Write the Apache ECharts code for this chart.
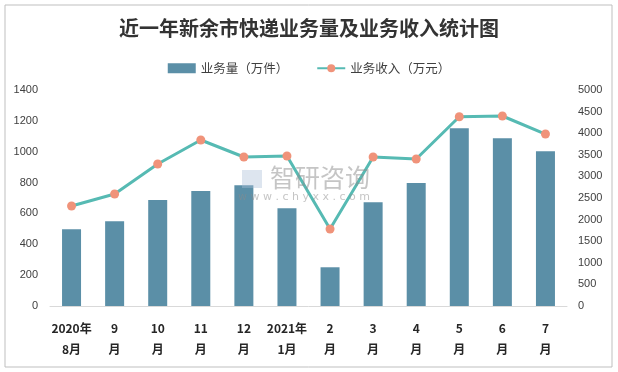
<!DOCTYPE html>
<html><head><meta charset="utf-8">
<script src="https://cdn.jsdelivr.net/npm/echarts@6/dist/echarts.min.js"></script>
<style>html,body{margin:0;padding:0;background:#fff}#c{width:618px;height:372px}</style>
</head><body><div id="c"></div>
<script>
const categories = ['2020年\n8月','9\n月','10\n月','11\n月','12\n月','2021年\n1月','2\n月','3\n月','4\n月','5\n月','6\n月','7\n月'];
const volume = [498, 549, 687, 745, 782, 633, 251, 672, 797, 1152, 1087, 1003];
const revenue = [2315, 2593, 3287, 3843, 3449, 3472, 1782, 3449, 3403, 4382, 4398, 3981];
const leftTicks = [0, 1400, 200];
const rightTicks = [0, 5000, 500];

const chart = echarts.init(document.getElementById('c'), null, {renderer:'canvas'});
chart.setOption({
  animation: false,
  backgroundColor: '#fff',
  title: {
    text: '近一年新余市快递业务量及业务收入统计图',
    left: 'center', top: 13,
    textStyle: {fontFamily: 'Noto Sans CJK SC', fontWeight: 'bold', fontSize: 20, color: '#333'}
  },
  legend: {
    top: 57, left: 'center', itemGap: 28, itemWidth: 28, itemHeight: 10,
    textStyle: {fontFamily: 'Noto Sans CJK SC', fontSize: 12.5, color: '#404040'},
    data: [{name: '业务量（万件）', icon: 'rect'}, {name: '业务收入（万元）'}]
  },
  grid: {left: 50, right: 51, top: 90, bottom: 66},
  graphic: [
    {type: 'rect', shape: {x: 5, y: 5, width: 607, height: 362}, style: {fill: 'none', stroke: '#bfbfbf', lineWidth: 1}, z: -1},
    {type: 'text', left: 270, top: 165, style: {text: '智研咨询', font: '25px "Noto Sans CJK SC"', fill: 'rgba(140,140,140,0.5)'}, z: 10},
    {type: 'text', left: 238, top: 192, style: {text: 'w w w . c h y x x . c o m', font: '11px "DejaVu Sans"', fill: 'rgba(140,140,140,0.5)'}, z: 10},
    {type: 'rect', shape: {x: 242, y: 170, width: 20, height: 18}, style: {fill: 'rgba(170,190,215,0.4)'}, z: 10}
  ],
  xAxis: {
    type: 'category', data: categories,
    axisLine: {lineStyle: {color: '#d9d9d9', width: 1}},
    axisTick: {show: false},
    axisLabel: {margin: 12, fontFamily: 'Noto Sans CJK SC', fontWeight: 'bold', fontSize: 12, color: '#262626', lineHeight: 21, interval: 0}
  },
  yAxis: [
    {type: 'value', min: leftTicks[0], max: leftTicks[1], interval: leftTicks[2],
     splitLine: {show: false}, axisLine: {show: false}, axisTick: {show: false},
     axisLabel: {margin: 12, fontFamily: 'Liberation Sans', fontSize: 11, color: '#404040', formatter: v => String(v)}},
    {type: 'value', min: rightTicks[0], max: rightTicks[1], interval: rightTicks[2],
     splitLine: {show: false}, axisLine: {show: false}, axisTick: {show: false},
     axisLabel: {margin: 11, fontFamily: 'Liberation Sans', fontSize: 11, color: '#404040', formatter: v => String(v)}}
  ],
  series: [
    {name: '业务量（万件）', type: 'bar', data: volume, barWidth: 19,
     itemStyle: {color: '#5b8fa7'}},
    {name: '业务收入（万元）', type: 'line', yAxisIndex: 1, data: revenue,
     symbol: 'circle', symbolSize: 9,
     lineStyle: {color: '#56bab3', width: 3},
     itemStyle: {color: '#f0937a', borderWidth: 0}}
  ]
});
</script></body></html>
